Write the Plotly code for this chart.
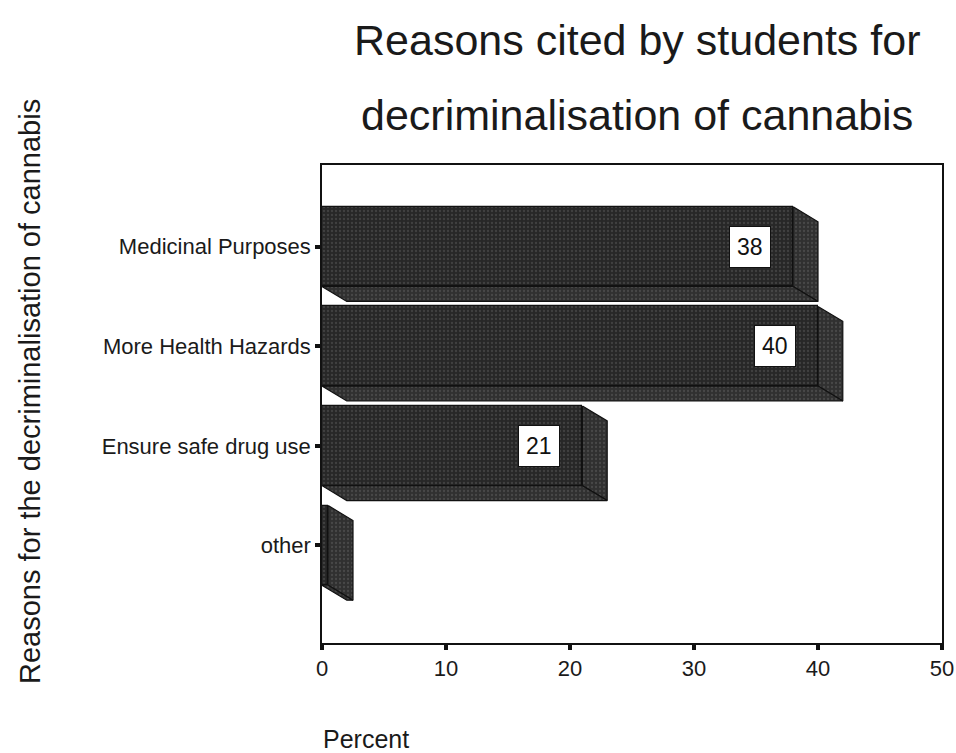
import plotly.graph_objects as go

# Reasons and their share of students (percent)
reasons = ["Medicinal Purposes", "More Health Hazards", "Ensure safe drug use", "other"]
percent = [38, 40, 21, 0.5]
labelled = [True, True, True, False]

x_ticks = [0, 10, 20, 30, 40, 50]

# 3D extrusion of each bar (in axis units) and bar thickness
depth_x = 2.0
depth_y = 0.15
half_h = 0.40

FONT = "Arial, Liberation Sans, sans-serif"
INK = "#1a1a1a"

face_color = "#272727"
side_color = "#303030"
edge = dict(color="#111111", width=1.2)
texture = dict(shape=".", fgcolor="#5a5a5a", bgcolor=face_color, size=4, solidity=0.25)
side_texture = dict(shape=".", fgcolor="#606060", bgcolor=side_color, size=4, solidity=0.25)

pos = list(range(len(reasons)))

# plot area in pixels, used to place paper-referenced text
W, H = 956, 753
L, R, T, B = 322, 14, 165, 110
pw, ph = W - L - R, H - T - B


def px_x(x):
    return (x - L) / pw


def px_y(y):
    return (H - B - y) / ph


fig = go.Figure()

# Front faces
fig.add_trace(go.Bar(
    x=percent, y=pos, orientation="h", width=2 * half_h,
    marker=dict(color=face_color, line=edge, pattern=texture),
    hoverinfo="skip", showlegend=False,
))

# Side and bottom faces of the extruded bars
for yi, v in zip(pos, percent):
    top, bot = yi - half_h, yi + half_h
    side_x = [v, v + depth_x, v + depth_x, v, v]
    side_y = [top, top + depth_y, bot + depth_y, bot, top]
    fig.add_trace(go.Scatter(
        x=side_x, y=side_y, mode="lines", fill="toself",
        fillcolor=side_color, line=edge, fillpattern=side_texture,
        hoverinfo="skip", showlegend=False,
    ))
    bottom_x = [0, v, v + depth_x, depth_x, 0]
    bottom_y = [bot, bot, bot + depth_y, bot + depth_y, bot]
    fig.add_trace(go.Scatter(
        x=bottom_x, y=bottom_y, mode="lines", fill="toself",
        fillcolor=side_color, line=edge, fillpattern=side_texture,
        hoverinfo="skip", showlegend=False,
    ))

# Value boxes
for yi, v, show in zip(pos, percent, labelled):
    if not show:
        continue
    fig.add_annotation(
        x=v - 3.5, y=yi, xref="x", yref="y", text=str(v), showarrow=False,
        font=dict(family=FONT, size=23, color="#111111"),
        bgcolor="white", bordercolor="#111111", borderwidth=1, borderpad=7,
    )

# Two-line title
for text, yc in [("Reasons cited by students for", 40),
                 ("decriminalisation of cannabis", 115)]:
    fig.add_annotation(x=px_x(637), y=px_y(yc), xref="paper", yref="paper",
                       xanchor="center", yanchor="middle", showarrow=False, text=text,
                       font=dict(family=FONT, size=43, color=INK))

# Axis titles
fig.add_annotation(x=px_x(30), y=px_y(392), xref="paper", yref="paper",
                   xanchor="center", yanchor="middle", showarrow=False, textangle=-90,
                   text="Reasons for the decriminalisation of cannabis",
                   font=dict(family=FONT, size=29, color=INK))
fig.add_annotation(x=px_x(321), y=px_y(739), xref="paper", yref="paper",
                   xanchor="left", yanchor="middle", showarrow=False, text="Percent",
                   font=dict(family=FONT, size=25, color=INK))

fig.update_layout(
    width=W, height=H,
    margin=dict(l=L, r=R, t=T, b=B),
    paper_bgcolor="white", plot_bgcolor="white",
    bargap=0,
    xaxis=dict(
        range=[0, 50], tickvals=x_ticks, ticktext=[str(t) for t in x_ticks],
        automargin=False,
        showgrid=False, zeroline=False, showline=True, linecolor="#111111", linewidth=1.5,
        mirror=True, ticks="outside", ticklen=5, tickwidth=4, tickcolor="#111111",
        tickfont=dict(family=FONT, size=22, color=INK),
    ),
    yaxis=dict(
        range=[3.98, -0.82], tickvals=pos, ticktext=reasons,
        automargin=False,
        showgrid=False, zeroline=False, showline=True, linecolor="#111111", linewidth=1.5,
        mirror=True, ticks="outside", ticklen=5, tickwidth=4, tickcolor="#111111",
        tickfont=dict(family=FONT, size=22, color=INK),
    ),
)

fig.write_html("out.html")
